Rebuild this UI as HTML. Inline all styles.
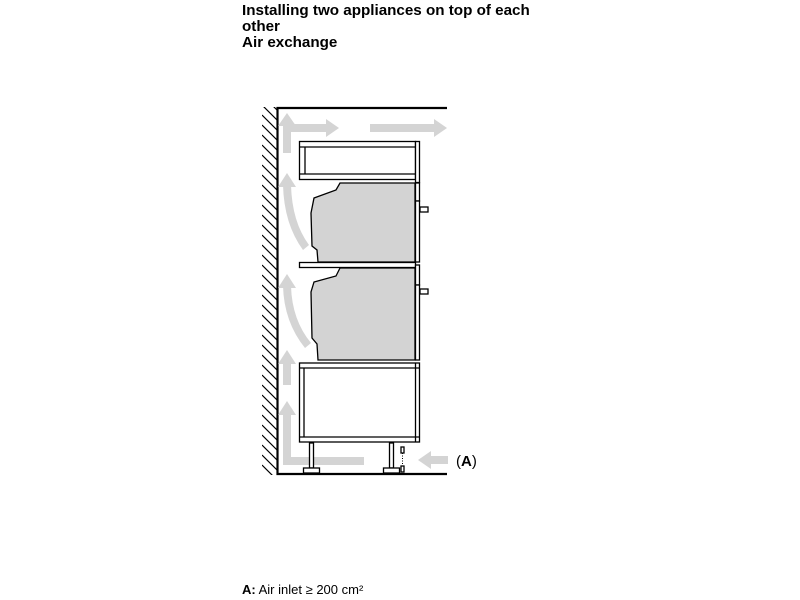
<!DOCTYPE html>
<html><head><meta charset="utf-8"><style>
html,body{margin:0;padding:0;background:#fff;}
body{width:800px;height:600px;overflow:hidden;position:relative;font-family:"Liberation Sans",Arial,sans-serif;}
.t{position:absolute;left:242px;top:3px;font-weight:bold;font-size:15.2px;line-height:16px;color:#000;}
.b{position:absolute;left:242px;top:582px;font-size:13px;color:#000;}
</style></head><body>
<div class="t">Installing two appliances on top of each<br>other<br>Air exchange</div>
<svg width="800" height="600" style="position:absolute;left:0;top:0">
<defs>
<clipPath id="hc"><rect x="262" y="107" width="15" height="368"/></clipPath>
</defs>
<g clip-path="url(#hc)" stroke="#000" stroke-width="1.2">
<path d="M262,95 L277,110 M262,105 L277,120 M262,115 L277,130 M262,125 L277,140 M262,135 L277,150 M262,145 L277,160 M262,155 L277,170 M262,165 L277,180 M262,175 L277,190 M262,185 L277,200 M262,195 L277,210 M262,205 L277,220 M262,215 L277,230 M262,225 L277,240 M262,235 L277,250 M262,245 L277,260 M262,255 L277,270 M262,265 L277,280 M262,275 L277,290 M262,285 L277,300 M262,295 L277,310 M262,305 L277,320 M262,315 L277,330 M262,325 L277,340 M262,335 L277,350 M262,345 L277,360 M262,355 L277,370 M262,365 L277,380 M262,375 L277,390 M262,385 L277,400 M262,395 L277,410 M262,405 L277,420 M262,415 L277,430 M262,425 L277,440 M262,435 L277,450 M262,445 L277,460 M262,455 L277,470 M262,465 L277,480"/>
</g>
<path d="M447,108 L277.5,108 L277.5,474 L447,474" fill="none" stroke="#000" stroke-width="2.2"/>
<g fill="#d4d4d4" stroke="none">
<rect x="283" y="125" width="8" height="28"/><polygon points="278,126 287,113 296,126"/>
<rect x="287" y="124" width="40" height="8"/><polygon points="326,119 339,128 326,137"/>
<rect x="370" y="124" width="65" height="8"/><polygon points="434,119 447,128 434,137"/>
<path d="M283,185 L291,185 Q292,222 309,245 L303,250 Q284,224 283,185 Z"/><polygon points="278,187 287,173 296,187"/>
<path d="M283,286 L291,286 Q292,320 311,343 L305,348 Q284,322 283,286 Z"/><polygon points="278,288 287,274 296,288"/>
<polygon points="278,364 287,350 296,364"/><rect x="283" y="363" width="8" height="22"/>
<path d="M283,465 L283,413 L291,413 L291,457 L364,457 L364,465 Z"/><polygon points="278,415 287,401 296,415"/>
<rect x="430" y="456" width="18" height="8"/><polygon points="431,451 418,460 431,469"/>
</g>
<g fill="#fff" stroke="#000" stroke-width="1.3">
<rect x="299.5" y="141.5" width="116" height="38"/>
<line x1="299.5" y1="147" x2="415.5" y2="147"/>
<line x1="299.5" y1="174" x2="415.5" y2="174"/>
<line x1="305" y1="147" x2="305" y2="174"/>
<rect x="415.5" y="141.5" width="4" height="41"/>
</g>
<g stroke="#000" stroke-width="1.3">
<path d="M340,183 L415,183 L415,262 L318,262 L317,250 L312,246 L311,213 L314,198 L336,190 Z" fill="#d3d3d3"/>
<rect x="415.5" y="183" width="4" height="18" fill="#fff"/>
<rect x="415.5" y="201" width="4" height="61" fill="#fff"/>
<rect x="420" y="207" width="8" height="5" fill="#fff"/>
<rect x="299.5" y="262.5" width="116" height="5" fill="#fff"/>
<path d="M340,268 L415,268 L415,360 L318,360 L317,344 L312,338 L311,292 L314,282 L336,276 Z" fill="#d3d3d3"/>
<rect x="415.5" y="265" width="4" height="20" fill="#fff"/>
<rect x="415.5" y="285" width="4" height="75" fill="#fff"/>
<rect x="420" y="289" width="8" height="5" fill="#fff"/>
</g>
<g fill="#fff" stroke="#000" stroke-width="1.3">
<rect x="299.5" y="363" width="120" height="79"/>
<line x1="299.5" y1="368" x2="419.5" y2="368"/>
<line x1="299.5" y1="437" x2="419.5" y2="437"/>
<line x1="304" y1="368" x2="304" y2="437"/>
<line x1="415.5" y1="363" x2="415.5" y2="442"/>
<rect x="309.5" y="443" width="4" height="25"/>
<rect x="303.5" y="468" width="16" height="5"/>
<rect x="389.5" y="443" width="4" height="25"/>
<rect x="383.5" y="468" width="16" height="5"/>
<rect x="401" y="447" width="3" height="6"/>
<rect x="401" y="466" width="3" height="6"/>
</g>
<line x1="402.5" y1="453" x2="402.5" y2="466" stroke="#000" stroke-width="1" stroke-dasharray="1,1.5"/>
<text x="456" y="466" font-family="Liberation Sans, Arial, sans-serif" font-size="15">(<tspan font-weight="bold">A</tspan>)</text>
</svg>
<div class="b"><b>A:</b> Air inlet ≥ 200 cm²</div>
</body></html>
